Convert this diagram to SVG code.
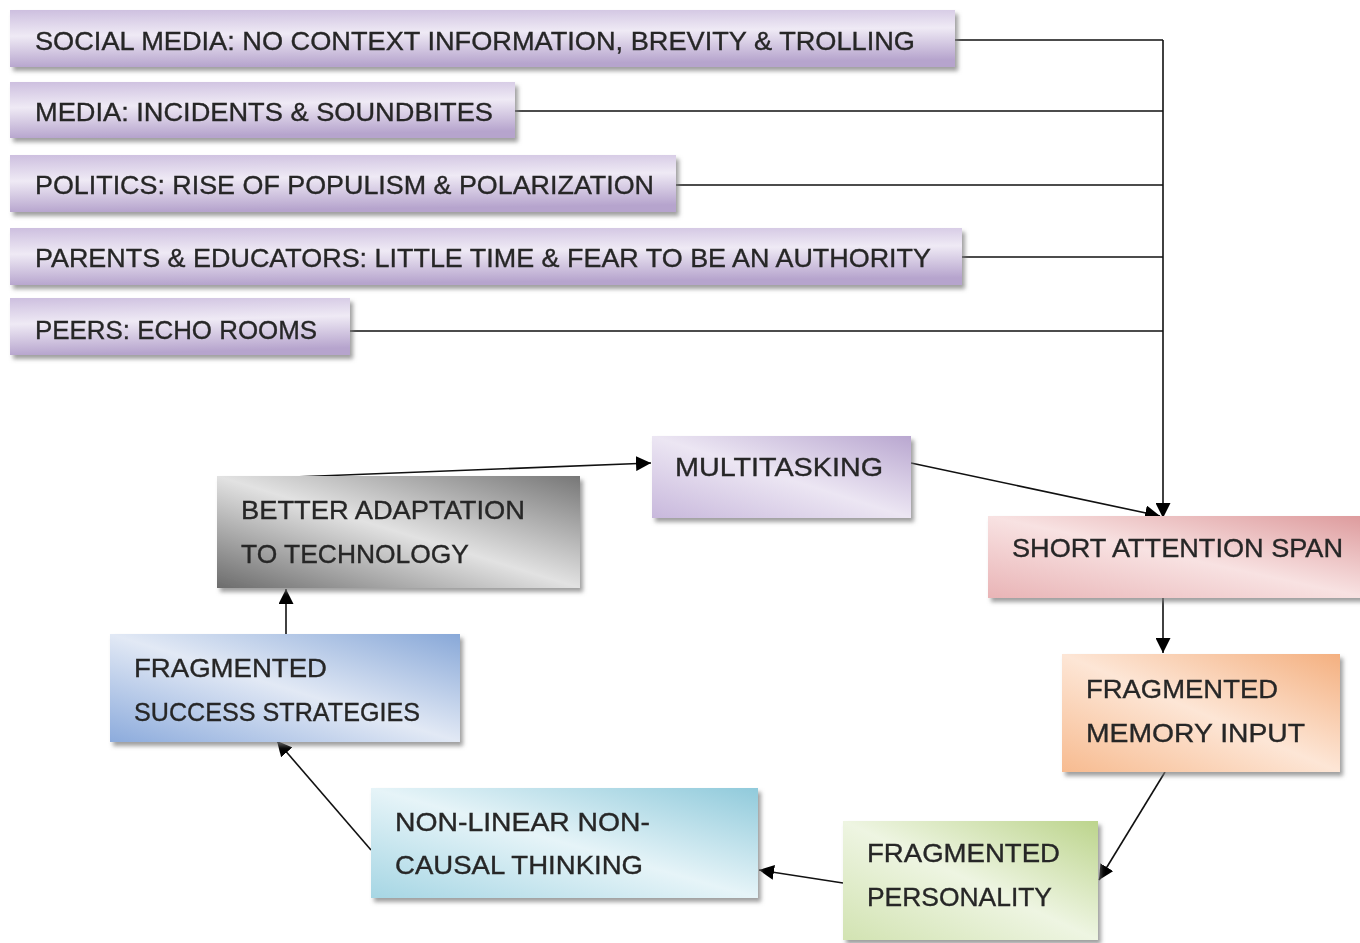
<svg xmlns="http://www.w3.org/2000/svg" width="1360" height="943" viewBox="0 0 1360 943">
<style>
.t{font-family:"Liberation Sans","Noto Sans",sans-serif;font-size:26px;fill:#262626;stroke:#262626;stroke-width:0.35;}
.c{stroke:#111;stroke-width:1.6;fill:none;}
.box{filter:url(#sh);}
</style>
<defs>
<filter id="sh" x="-5%" y="-10%" width="115%" height="130%">
<feDropShadow dx="3" dy="4" stdDeviation="2" flood-color="#777" flood-opacity="0.7"/>
</filter>
<marker id="ah2" viewBox="0 0 10 10" refX="10" refY="5" markerWidth="15" markerHeight="15" markerUnits="userSpaceOnUse" orient="auto">
<path d="M0,0 L10,5 L0,10 z" fill="#000"/>
</marker>
<linearGradient id="gP" x1="0" y1="0" x2="0.15" y2="1">
<stop offset="0" stop-color="#cdbfdf"/>
<stop offset="0.45" stop-color="#efeaf5"/>
<stop offset="1" stop-color="#b6a4cd"/>
</linearGradient>
<linearGradient id="gPm" x1="0" y1="1" x2="1" y2="0">
<stop offset="0" stop-color="#c8b8dc"/>
<stop offset="0.5" stop-color="#ece6f3"/>
<stop offset="1" stop-color="#b9a7d0"/>
</linearGradient>
<linearGradient id="gR" x1="0" y1="1" x2="1" y2="0">
<stop offset="0" stop-color="#e9b4b6"/>
<stop offset="0.5" stop-color="#f8e2e2"/>
<stop offset="1" stop-color="#dd9a9c"/>
</linearGradient>
<linearGradient id="gO" x1="0" y1="1" x2="1" y2="0">
<stop offset="0" stop-color="#f7bb90"/>
<stop offset="0.5" stop-color="#fde6d6"/>
<stop offset="1" stop-color="#f4b080"/>
</linearGradient>
<linearGradient id="gG" x1="0" y1="1" x2="1" y2="0">
<stop offset="0" stop-color="#d2e3b2"/>
<stop offset="0.5" stop-color="#eef5e2"/>
<stop offset="1" stop-color="#bcd48c"/>
</linearGradient>
<linearGradient id="gC" x1="0" y1="1" x2="1" y2="0">
<stop offset="0" stop-color="#a6d6e4"/>
<stop offset="0.5" stop-color="#e6f4f8"/>
<stop offset="1" stop-color="#90cadb"/>
</linearGradient>
<linearGradient id="gB" x1="0" y1="1" x2="1" y2="0">
<stop offset="0" stop-color="#8cabdc"/>
<stop offset="0.5" stop-color="#e2e9f5"/>
<stop offset="1" stop-color="#88a8d8"/>
</linearGradient>
<linearGradient id="gK" x1="0" y1="1" x2="1" y2="0">
<stop offset="0" stop-color="#6c6c6c"/>
<stop offset="0.5" stop-color="#e2e2e2"/>
<stop offset="1" stop-color="#777777"/>
</linearGradient>
</defs>
<rect width="1360" height="943" fill="#fff"/>

<g id="connectors">
<line class="c" x1="955" y1="40" x2="1163" y2="40"/>
<line class="c" x1="515" y1="111" x2="1163" y2="111"/>
<line class="c" x1="676" y1="185" x2="1163" y2="185"/>
<line class="c" x1="962" y1="257" x2="1163" y2="257"/>
<line class="c" x1="350" y1="331" x2="1163" y2="331"/>
<line class="c" x1="1163" y1="40" x2="1163" y2="518" marker-end="url(#ah2)"/>
<line class="c" x1="293" y1="477" x2="651" y2="463" marker-end="url(#ah2)"/>
<line class="c" x1="911" y1="463" x2="1160" y2="516" marker-end="url(#ah2)"/>
<line class="c" x1="1163" y1="598" x2="1163" y2="653" marker-end="url(#ah2)"/>
<line class="c" x1="1165" y1="772" x2="1099" y2="880" marker-end="url(#ah2)"/>
<line class="c" x1="843" y1="883" x2="759" y2="870" marker-end="url(#ah2)"/>
<line class="c" x1="371" y1="850" x2="277" y2="741" marker-end="url(#ah2)"/>
<line class="c" x1="286" y1="634" x2="286" y2="589" marker-end="url(#ah2)"/>
</g>

<g id="n1" class="box"><rect x="10" y="10" width="945" height="57" fill="url(#gP)"/>
<text class="t" x="35" y="50" textLength="880" lengthAdjust="spacingAndGlyphs">SOCIAL MEDIA: NO CONTEXT INFORMATION, BREVITY &amp; TROLLING</text></g>
<g id="n2" class="box"><rect x="10" y="82" width="505" height="56" fill="url(#gP)"/>
<text class="t" x="35" y="121" textLength="458" lengthAdjust="spacingAndGlyphs">MEDIA: INCIDENTS &amp; SOUNDBITES</text></g>
<g id="n3" class="box"><rect x="10" y="155" width="666" height="57" fill="url(#gP)"/>
<text class="t" x="35" y="194" textLength="619" lengthAdjust="spacingAndGlyphs">POLITICS: RISE OF POPULISM &amp; POLARIZATION</text></g>
<g id="n4" class="box"><rect x="10" y="228" width="952" height="57" fill="url(#gP)"/>
<text class="t" x="35" y="267" textLength="896" lengthAdjust="spacingAndGlyphs">PARENTS &amp; EDUCATORS: LITTLE TIME &amp; FEAR TO BE AN AUTHORITY</text></g>
<g id="n5" class="box"><rect x="10" y="298" width="340" height="57" fill="url(#gP)"/>
<text class="t" x="35" y="339" textLength="282" lengthAdjust="spacingAndGlyphs">PEERS: ECHO ROOMS</text></g>

<g id="multitasking" class="box"><rect x="652" y="436" width="259" height="82" fill="url(#gPm)"/>
<text class="t" x="675" y="476" textLength="208" lengthAdjust="spacingAndGlyphs">MULTITASKING</text></g>
<g id="attention" class="box"><rect x="988" y="516" width="380" height="82" fill="url(#gR)"/>
<text class="t" x="1012" y="557" textLength="331" lengthAdjust="spacingAndGlyphs">SHORT ATTENTION SPAN</text></g>
<g id="memory" class="box"><rect x="1062" y="654" width="278" height="118" fill="url(#gO)"/>
<text class="t" x="1086" y="698" textLength="192" lengthAdjust="spacingAndGlyphs">FRAGMENTED</text>
<text class="t" x="1086" y="742" textLength="219" lengthAdjust="spacingAndGlyphs">MEMORY INPUT</text></g>
<g id="personality" class="box"><rect x="843" y="821" width="255" height="119" fill="url(#gG)"/>
<text class="t" x="867" y="862" textLength="193" lengthAdjust="spacingAndGlyphs">FRAGMENTED</text>
<text class="t" x="867" y="906" textLength="185" lengthAdjust="spacingAndGlyphs">PERSONALITY</text></g>
<g id="thinking" class="box"><rect x="371" y="788" width="387" height="110" fill="url(#gC)"/>
<text class="t" x="395" y="831" textLength="255" lengthAdjust="spacingAndGlyphs">NON-LINEAR NON-</text>
<text class="t" x="395" y="874" textLength="248" lengthAdjust="spacingAndGlyphs">CAUSAL THINKING</text></g>
<g id="success" class="box"><rect x="110" y="634" width="350" height="108" fill="url(#gB)"/>
<text class="t" x="134" y="677" textLength="193" lengthAdjust="spacingAndGlyphs">FRAGMENTED</text>
<text class="t" x="134" y="721" textLength="286" lengthAdjust="spacingAndGlyphs">SUCCESS STRATEGIES</text></g>
<g id="adaptation" class="box"><rect x="217" y="476" width="363" height="112" fill="url(#gK)"/>
<text class="t" x="241" y="519" textLength="284" lengthAdjust="spacingAndGlyphs">BETTER ADAPTATION</text>
<text class="t" x="241" y="563" textLength="228" lengthAdjust="spacingAndGlyphs">TO TECHNOLOGY</text></g>
</svg>
